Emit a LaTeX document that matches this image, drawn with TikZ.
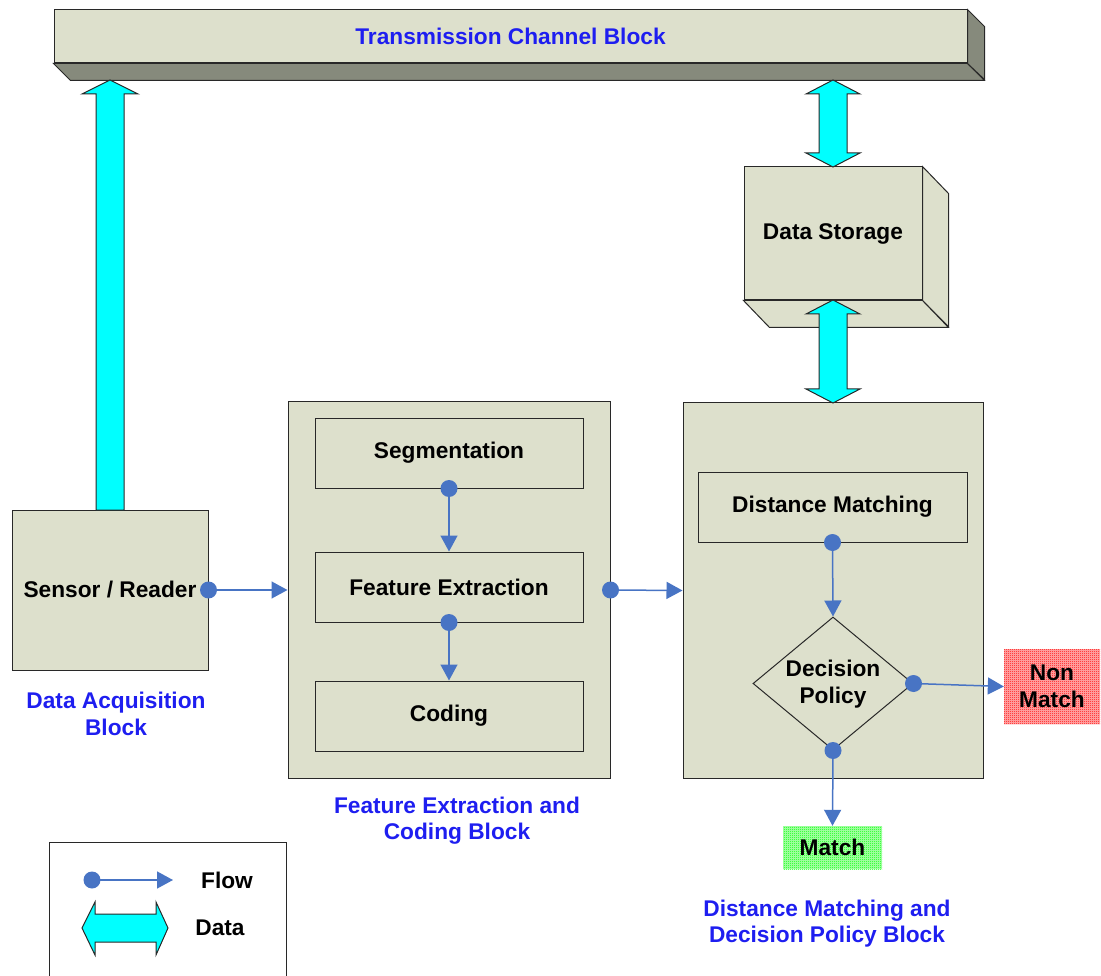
\documentclass[tikz,border=0pt]{standalone}
\usepackage{fontspec}
\setmainfont{Liberation Sans}
\usetikzlibrary{arrows.meta,shapes.geometric,patterns,calc}
\definecolor{boxfill}{RGB}{221,224,204}
\definecolor{sidegray}{RGB}{134,138,124}
\definecolor{lblue}{RGB}{30,30,240}
\definecolor{flowblue}{RGB}{72,116,196}
\definecolor{cyanfill}{RGB}{0,255,255}
\definecolor{edge}{RGB}{40,40,40}
\pgfdeclarepatternformonly{finechecker}{\pgfqpoint{0pt}{0pt}}{\pgfqpoint{2pt}{2pt}}{\pgfqpoint{2pt}{2pt}}{%
  \pgfpathrectangle{\pgfqpoint{0pt}{0pt}}{\pgfqpoint{1pt}{1pt}}%
  \pgfpathrectangle{\pgfqpoint{1pt}{1pt}}{\pgfqpoint{1pt}{1pt}}%
  \pgfusepath{fill}}
\tikzset{
  box/.style={draw=edge, fill=boxfill, line width=1pt, inner sep=0pt, align=center},
  face/.style={draw=edge, line width=1pt, line join=miter},
  lbl/.style={text=lblue, align=center, inner sep=0pt},
  flow/.style={draw=flowblue, line width=1.5pt, -{Triangle[length=16pt,width=17pt]}},
  fdot/.style={fill=flowblue},
  datar/.style={fill=cyanfill, draw=edge, line width=1pt, line join=miter},
  result/.style={inner sep=0pt, align=center, preaction={fill=#1!30!white}, pattern=finechecker, pattern color=#1},
}
\newcommand\flowarrow[2]{\draw[flow] (#1) -- (#2); \fill[fdot] (#1) circle (8.5pt);}
\begin{document}
\begin{tikzpicture}[x=1pt,y=-1pt,font=\fontsize{22.7}{26.5}\selectfont\bfseries]
\useasboundingbox (0,0) rectangle (1101,976);

% Transmission channel bar
\node[box, minimum width=913pt, minimum height=53pt, text=lblue] (bar) at (510.5,36.5) {Transmission Channel Block};
\draw[face, fill=sidegray] (bar.south west) -- (bar.south east) -- ++(17,17) -- ($(bar.south west)+(17,17)$) -- cycle;
\draw[face, fill=sidegray] (bar.north east) -- ++(17,17) -- ++(0,53) -- (bar.south east) -- cycle;

% Data storage
\node[box, minimum width=178pt, minimum height=133pt] (ds) at (833,233.5) {Data Storage};
\draw[face, fill=boxfill] (ds.north east) -- ++(26,27) -- ++(0,133) -- (ds.south east) -- cycle;
\draw[face, fill=boxfill] (ds.south west) -- (ds.south east) -- ++(26,27) -- ($(ds.south west)+(26,27)$) -- cycle;

% Sensor
\node[box, minimum width=196pt, minimum height=160pt] (sensor) at (110,590) {Sensor / Reader};

% Feature extraction block
\node[box, minimum width=322pt, minimum height=376pt] (feat) at (449,590) {};
\node[box, minimum width=268pt, minimum height=70pt] (seg) at (449,453) {Segmentation};
\node[box, minimum width=268pt, minimum height=70pt] (fe) at (449,587) {Feature Extraction};
\node[box, minimum width=268pt, minimum height=70pt] (cod) at (449,716) {Coding};

% Distance matching block
\node[box, minimum width=300pt, minimum height=375pt] (dist) at (833,590.5) {};
\node[box, minimum width=269pt, minimum height=70pt] (dm) at (832.5,507) {Distance Matching};
\node[diamond, draw=edge, line width=1pt, minimum width=160pt, minimum height=133pt, inner sep=0pt] (dec) at (833,683.5) {};
\node[align=center, inner sep=0pt] at (833,684) {Decision\\Policy};

% Results
\node[result=red, minimum width=96pt, minimum height=75pt] (nm) at (1052,686.5) {Non\\Match};
\node[result=green, minimum width=99pt, minimum height=43pt] (match) at (832.5,847.5) {Match};

% Flow arrows
\flowarrow{sensor.east}{feat.west}
\flowarrow{seg.south}{fe.north}
\flowarrow{fe.south}{cod.north}
\flowarrow{feat.east}{dist.west}
\flowarrow{dm.south}{dec.north}
\flowarrow{dec.east}{nm.west}
\flowarrow{dec.south}{match.north}

% Data arrows
\draw[datar] (96,510) -- (96,94) -- (82,94) -- (110,80) -- (138,94) -- (124,94) -- (124,510) -- cycle;
\draw[datar] (833,80) -- (860,94) -- (847,94) -- (847,153) -- (860,153) -- (833,167) -- (806,153) -- (819,153) -- (819,94) -- (806,94) -- cycle;
\draw[datar] (833,300) -- (860,314) -- (847,314) -- (847,389) -- (860,389) -- (833,403) -- (806,389) -- (819,389) -- (819,314) -- (806,314) -- cycle;

% Block labels
\node[lbl] at (116,714) {Data Acquisition\\Block};
\node[lbl] at (457,820.5) {Feature Extraction and\\Coding Block};
\node[lbl] at (827,923.5) {Distance Matching and\\Decision Policy Block};

% Legend
\draw[draw=edge, line width=1pt] (49,980) -- (49,842) -- (286,842) -- (286,980);
\coordinate (lgA) at (92,880);
\coordinate (lgB) at (173,880);
\flowarrow{lgA}{lgB}
\node[inner sep=0pt] (lflow) at (227,880) {Flow};
\draw[datar] (82,928) -- (95,902) -- (95,914) -- (156,914) -- (156,902) -- (168,928) -- (156,955) -- (156,942) -- (95,942) -- (95,955) -- cycle;
\node[inner sep=0pt] (ldata) at (220,928) {Data};
\end{tikzpicture}
\end{document}
